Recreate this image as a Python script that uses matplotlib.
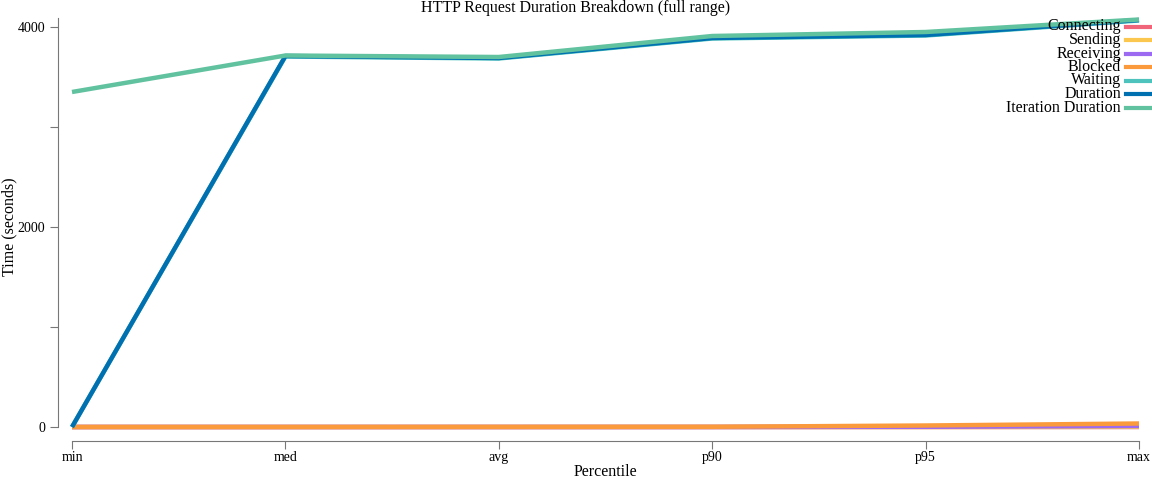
import matplotlib
matplotlib.use("Agg")
import matplotlib.pyplot as plt
from matplotlib.lines import Line2D

plt.rcParams['font.family'] = ['Liberation Serif', 'DejaVu Serif']

percentiles = ["min", "med", "avg", "p90", "p95", "max"]

# values in seconds
connecting = [0, 0, 0, 0, 0, 0]
sending = [0, 0, 0, 0, 0, 2]
receiving = [0, 0, 0, 0, 2, 10]
blocked = [0, 0, 1, 2, 15, 35]
waiting = [0, 3705, 3685, 3885, 3915, 4065]
duration = [0, 3710, 3690, 3890, 3920, 4070]
iteration_duration = [3350, 3715, 3700, 3910, 3950, 4075]

series = [
    ("Connecting", connecting, "#f0657a"),
    ("Sending", sending, "#fcc74f"),
    ("Receiving", receiving, "#9b6af0"),
    ("Blocked", blocked, "#fb9a3d"),
    ("Waiting", waiting, "#4ec3bd"),
    ("Duration", duration, "#0070b0"),
    ("Iteration Duration", iteration_duration, "#61c2a0"),
]

W, H = 1152, 480
fig = plt.figure(figsize=(W / 100, H / 100), dpi=100)
ax = fig.add_axes([72 / W, (H - 427) / H, 1067 / W, 409 / H])

x = list(range(len(percentiles)))
for name, vals, color in series:
    ax.plot(x, vals, color=color, lw=3.2, clip_on=False, solid_capstyle="butt")

ax.set_xlim(0, len(percentiles) - 1)
ax.set_ylim(0, 4090)
ax.set_xticks(x)
ax.set_xticklabels(percentiles)
ax.set_yticks([0, 1000, 2000, 3000, 4000])
ax.set_yticklabels(["0", "", "2000", "", "4000"])

for s in ["top", "right"]:
    ax.spines[s].set_visible(False)
for s in ["left", "bottom"]:
    ax.spines[s].set_position(("outward", 10))
    ax.spines[s].set_color("#777777")
ax.tick_params(colors="#777777", labelcolor="black", labelsize=10, length=6)
ax.tick_params(axis="x", pad=1.5)

ax.set_xlabel("Percentile", fontsize=11.5, labelpad=0)
fig.text(9 / W, 1 - 227 / H, "Time (seconds)", rotation=90,
         ha="center", va="center", fontsize=11.5)
fig.text(576 / W, 1 - 8 / H, "HTTP Request Duration Breakdown (full range)",
         ha="center", va="center", fontsize=11.5)

# legend on the right, label then swatch
y0 = 26.5
for i, (name, vals, color) in enumerate(series):
    yy = 1 - (y0 + i * 13.5) / H
    fig.text(1121 / W, yy, name, ha="right", va="center", fontsize=11.5)
    fig.add_artist(Line2D([1126 / W, 1152 / W], [yy, yy], color=color, lw=3,
                          transform=fig.transFigure))

fig.savefig("out.png", dpi=100)
